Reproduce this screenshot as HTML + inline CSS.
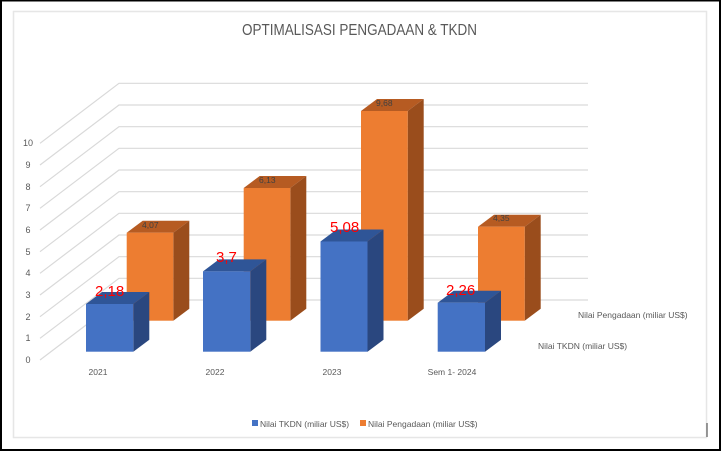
<!DOCTYPE html>
<html><head><meta charset="utf-8"><style>
html,body{margin:0;padding:0;background:#fff;}
svg{display:block;font-family:"Liberation Sans",sans-serif;}
</style></head><body>
<svg width="721" height="451" viewBox="0 0 721 451" xmlns="http://www.w3.org/2000/svg">
<rect x="0" y="0" width="721" height="451" fill="#fff"/>
<rect x="1" y="0.5" width="719" height="449.5" fill="none" stroke="#000" stroke-width="2"/>
<rect x="13.5" y="11.5" width="693" height="426" fill="#fff" stroke="#e6e6e6" stroke-width="1.5"/>
<line x1="707" y1="423" x2="707" y2="437" stroke="#777" stroke-width="1.5"/>
<text x="359.5" y="35" text-anchor="middle" font-size="15.5" fill="#595959" textLength="235" lengthAdjust="spacingAndGlyphs">OPTIMALISASI PENGADAAN &amp; TKDN</text>
<g stroke="#d9d9d9" stroke-width="1.2" fill="none">
<path d="M40 360 L119 300 H588"/>
<path d="M40 338.3 L119 278.3 H588"/>
<path d="M40 316.7 L119 256.7 H588"/>
<path d="M40 295 L119 235 H588"/>
<path d="M40 273.3 L119 213.3 H588"/>
<path d="M40 251.7 L119 191.7 H588"/>
<path d="M40 230 L119 170 H588"/>
<path d="M40 208.3 L119 148.3 H588"/>
<path d="M40 186.7 L119 126.7 H588"/>
<path d="M40 165 L119 105 H588"/>
<path d="M40 143.3 L119 83.3 H588"/>
</g>
<g font-size="9" fill="#595959" text-anchor="middle">
<text x="28" y="363">0</text><text x="28" y="341">1</text><text x="28" y="320">2</text><text x="28" y="298">3</text><text x="28" y="276">4</text><text x="28" y="255">5</text><text x="28" y="233">6</text><text x="28" y="211">7</text><text x="28" y="190">8</text><text x="28" y="168">9</text><text x="28" y="146">10</text>
</g>
<!-- orange bars -->
<g>
<polygon points="126.7,232.7 142.7,220.7 189.3,220.7 173.3,232.7" fill="#b65b22"/>
<polygon points="173.3,232.7 189.3,220.7 189.3,308.7 173.3,320.7" fill="#9a4d1c"/>
<rect x="126.7" y="232.7" width="46.6" height="88" fill="#ed7d31"/>
<polygon points="243.7,188 259.7,176 306.3,176 290.3,188" fill="#b65b22"/>
<polygon points="290.3,188 306.3,176 306.3,308.7 290.3,320.7" fill="#9a4d1c"/>
<rect x="243.7" y="188" width="46.6" height="132.7" fill="#ed7d31"/>
<polygon points="361,111 377,99 423.7,99 407.7,111" fill="#b65b22"/>
<polygon points="407.7,111 423.7,99 423.7,308.7 407.7,320.7" fill="#9a4d1c"/>
<rect x="361" y="111" width="46.7" height="209.7" fill="#ed7d31"/>
<polygon points="478,226.7 494,214.7 540.7,214.7 524.7,226.7" fill="#b65b22"/>
<polygon points="524.7,226.7 540.7,214.7 540.7,308.7 524.7,320.7" fill="#9a4d1c"/>
<rect x="478" y="226.7" width="46.7" height="94" fill="#ed7d31"/>
</g>
<g font-size="8.5" fill="#404040">
<text x="142" y="228">4,07</text><text x="259" y="183">6,13</text><text x="376" y="106">9,68</text><text x="493" y="221">4,35</text>
</g>
<!-- blue bars -->
<g>
<polygon points="86,304 102,292 149.3,292 133.3,304" fill="#2f5597"/>
<polygon points="133.3,304 149.3,292 149.3,339.7 133.3,351.7" fill="#2a477f"/>
<rect x="86" y="304" width="47.3" height="47.7" fill="#4472c4"/>
<polygon points="203,271.4 219,259.4 266.3,259.4 250.3,271.4" fill="#2f5597"/>
<polygon points="250.3,271.4 266.3,259.4 266.3,339.7 250.3,351.7" fill="#2a477f"/>
<rect x="203" y="271.4" width="47.3" height="80.3" fill="#4472c4"/>
<polygon points="320.5,241.5 336.5,229.5 383.5,229.5 367.5,241.5" fill="#2f5597"/>
<polygon points="367.5,241.5 383.5,229.5 383.5,339.7 367.5,351.7" fill="#2a477f"/>
<rect x="320.5" y="241.5" width="47" height="110.2" fill="#4472c4"/>
<polygon points="437.7,302.7 453.7,290.7 501,290.7 485,302.7" fill="#2f5597"/>
<polygon points="485,302.7 501,290.7 501,339.7 485,351.7" fill="#2a477f"/>
<rect x="437.7" y="302.7" width="47.3" height="49" fill="#4472c4"/>
</g>
<g font-size="15" fill="#ff0000">
<text x="95" y="296">2,18</text><text x="216" y="262">3,7</text><text x="330" y="232">5,08</text><text x="446" y="295">2,26</text>
</g>
<g font-size="8.5" fill="#595959">
<text x="98" y="375" text-anchor="middle">2021</text>
<text x="215" y="375" text-anchor="middle">2022</text>
<text x="332" y="375" text-anchor="middle">2023</text>
<text x="452" y="375" text-anchor="middle">Sem 1- 2024</text>
<text x="578" y="318">Nilai Pengadaan (miliar US$)</text>
<text x="538" y="349">Nilai TKDN (miliar US$)</text>
</g>
<rect x="252" y="420" width="6" height="6" fill="#4472c4"/>
<text x="260" y="427" font-size="8.5" fill="#595959">Nilai TKDN (miliar US$)</text>
<rect x="360" y="420" width="6" height="6" fill="#ed7d31"/>
<text x="368" y="427" font-size="8.5" fill="#595959">Nilai Pengadaan (miliar US$)</text>
</svg>
</body></html>
